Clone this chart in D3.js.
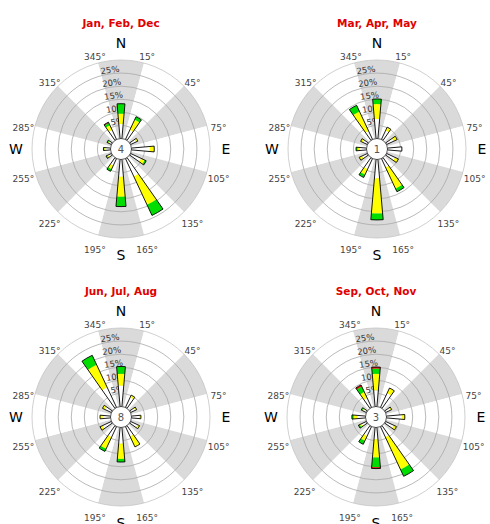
<!DOCTYPE html>
<html>
<head>
<meta charset="utf-8">
<script src="https://cdn.jsdelivr.net/npm/d3@7"></script>
<style>
  body { margin: 0; background: #fff; }
  svg { display: block; }
</style>
</head>
<body>
<svg id="chart"></svg>
<script>
// seasons and calm counts
const seasons = ["Jan, Feb, Dec", "Mar, Apr, May", "Jun, Jul, Aug", "Sep, Oct, Nov"];
const calms = [4, 1, 8, 3];

// wind directions (deg) and frequency (%) per speed class
const directions = [0, 30, 60, 90, 120, 150, 180, 210, 240, 270, 300, 330];

const djfWhite  = [5.5, 4.0, 2.3, 7.0, 4.5, 7.5, 6.6, 3.0, 1.5, 2.0, 1.2, 4.0];
const djfYellow = [4.0, 4.3, 0.8, 1.7, 1.5, 12.0, 7.6, 1.5, 0.4, 0.4, 0.3, 2.0];
const djfGreen  = [3.8, 1.3, 0, 0, 0.6, 4.5, 3.8, 0.9, 0.4, 0.3, 0.4, 0.9];
const djfRed    = [0, 0, 0, 0, 0, 0, 0, 0, 0, 0, 0, 0.4];

const mamWhite  = [7.5, 3.8, 3.0, 5.2, 3.6, 3.8, 7.2, 4.5, 2.3, 2.5, 2.0, 3.6];
const mamYellow = [5.7, 1.4, 1.5, 0.3, 1.4, 8.9, 13.4, 2.3, 1.2, 0.9, 0.9, 8.2];
const mamGreen  = [1.9, 0, 0, 0, 0, 1.3, 2.5, 1.2, 0, 0.6, 0, 2.6];
const mamRed    = [0, 0, 0, 0, 0, 0, 0, 0, 0, 0, 0, 0];

const jjaWhite  = [8.0, 4.3, 2.0, 2.9, 3.0, 4.2, 6.2, 4.5, 3.8, 3.0, 2.8, 8.5];
const jjaYellow = [4.5, 0.9, 0.6, 0.7, 0.8, 4.4, 5.8, 4.9, 1.0, 1.0, 1.0, 9.5];
const jjaGreen  = [2.8, 0, 0, 0, 0, 0, 1.2, 1.1, 0, 0, 0, 4.0];
const jjaRed    = [0, 0, 0, 0, 0, 0, 0, 0, 0, 0, 0, 0];

const sonWhite  = [6.2, 6.0, 2.0, 6.0, 3.5, 4.5, 4.5, 4.0, 2.0, 3.0, 1.2, 4.0];
const sonYellow = [6.3, 2.2, 0.6, 1.0, 1.1, 13.6, 7.0, 2.0, 0.8, 1.5, 0.6, 2.5];
const sonGreen  = [2.0, 0, 0, 0, 0, 2.9, 3.7, 1.5, 0.6, 0.7, 0.4, 2.3];
const sonRed    = [0.6, 0, 0, 0, 0, 0, 0.5, 0, 0, 0, 0, 0.7];

const speedColors = ["#ffffff", "#ffff00", "#00dd00", "#dd0000"];
const ringTicks = [5, 10, 15, 20, 25];
const sectorEdges = [15, 45, 75, 105, 135, 165, 195, 225, 255, 285, 315, 345];
const compass = [["N", 0], ["E", 90], ["S", 180], ["W", 270]];

const seasonData = [
  [djfWhite, djfYellow, djfGreen, djfRed],
  [mamWhite, mamYellow, mamGreen, mamRed],
  [jjaWhite, jjaYellow, jjaGreen, jjaRed],
  [sonWhite, sonYellow, sonGreen, sonRed]
];

const width = 490, height = 524;
const centers = [[121, 149], [377, 149], [121, 417], [376, 417]];
const r0 = 10.5, R = 89;
const rad = Math.PI / 180;

const svg = d3.select("#chart").attr("width", width).attr("height", height);

const r = d3.scaleLinear().domain([0, 30]).range([r0, R]);
const arc = d3.arc();

seasons.forEach((title, si) => {
  const [cx, cy] = centers[si];
  const g = svg.append("g").attr("transform", `translate(${cx},${cy})`);

  // alternating sectors
  d3.range(12).forEach(k => {
    g.append("path")
      .attr("d", arc({ innerRadius: 0, outerRadius: R, startAngle: (k * 30 - 15) * rad, endAngle: (k * 30 + 15) * rad }))
      .attr("fill", k % 2 === 0 ? "#dadada" : "#ffffff");
  });

  // rings
  g.selectAll(".ring")
    .data(ringTicks.concat([30]))
    .enter().append("circle")
    .attr("r", d => r(d))
    .attr("fill", "none")
    .attr("stroke", d => d === 30 ? "#c4c4c4" : "#a8a8a8")
    .attr("stroke-width", 0.8);

  // ring labels, along the arc slightly left of north
  const la = -8;
  g.selectAll(".ring-label")
    .data(ringTicks)
    .enter().append("text")
    .attr("transform", d => {
      const rr = r(d) + 1;
      return `translate(${rr * Math.sin(la * rad)},${-rr * Math.cos(la * rad)}) rotate(${la})`;
    })
    .attr("text-anchor", "middle")
    .style("font-family", "DejaVu Sans, sans-serif")
    .style("font-size", "8.5px")
    .attr("fill", "#333")
    .text(d => d + "%");

  // bars
  const cls = seasonData[si];
  directions.forEach((dir, i) => {
    let acc = 0;
    const a0 = (dir - 5) * rad, a1 = (dir + 5) * rad;
    cls.forEach((vals, c) => {
      const v = vals[i];
      if (v <= 0) return;
      g.append("path")
        .attr("d", arc({ innerRadius: r(acc), outerRadius: r(acc + v), startAngle: a0, endAngle: a1 }))
        .attr("fill", speedColors[c]);
      acc += v;
    });
    g.append("path")
      .attr("d", arc({ innerRadius: r(0), outerRadius: r(acc), startAngle: a0, endAngle: a1 }))
      .attr("fill", "none")
      .attr("stroke", "#000")
      .attr("stroke-width", 0.9);
  });

  // calm circle
  g.append("circle")
    .attr("r", r0)
    .attr("fill", "#fff")
    .attr("stroke", "#333")
    .attr("stroke-width", 0.8);
  g.append("text")
    .attr("y", 3.5)
    .attr("text-anchor", "middle")
    .style("font-family", "DejaVu Sans, sans-serif")
    .style("font-size", "10px")
    .attr("fill", "#555")
    .text(calms[si]);

  // degree labels at sector edges
  g.selectAll(".deg")
    .data(sectorEdges)
    .enter().append("text")
    .attr("x", d => 101 * Math.sin(d * rad))
    .attr("y", d => -99.6 * Math.cos(d * rad) + 4.25)
    .attr("dy", "0.35em")
    .attr("text-anchor", "middle")
    .style("font-family", "DejaVu Sans, sans-serif")
    .style("font-size", "9px")
    .attr("fill", "#444")
    .text(d => d + "°");

  // compass letters
  g.selectAll(".cmp")
    .data(compass)
    .enter().append("text")
    .attr("x", d => 105 * Math.sin(d[1] * rad))
    .attr("y", d => -106 * Math.cos(d[1] * rad))
    .attr("dy", "0.36em")
    .attr("text-anchor", "middle")
    .style("font-family", "DejaVu Sans, sans-serif")
    .style("font-size", "14px")
    .attr("fill", "#000")
    .text(d => d[0]);

  // title
  g.append("text")
    .attr("y", -122)
    .attr("text-anchor", "middle")
    .style("font-family", "DejaVu Sans, sans-serif")
    .style("font-size", "10.5px")
    .style("font-weight", "bold")
    .attr("fill", "#e00000")
    .text(title);
});
</script>
</body>
</html>
